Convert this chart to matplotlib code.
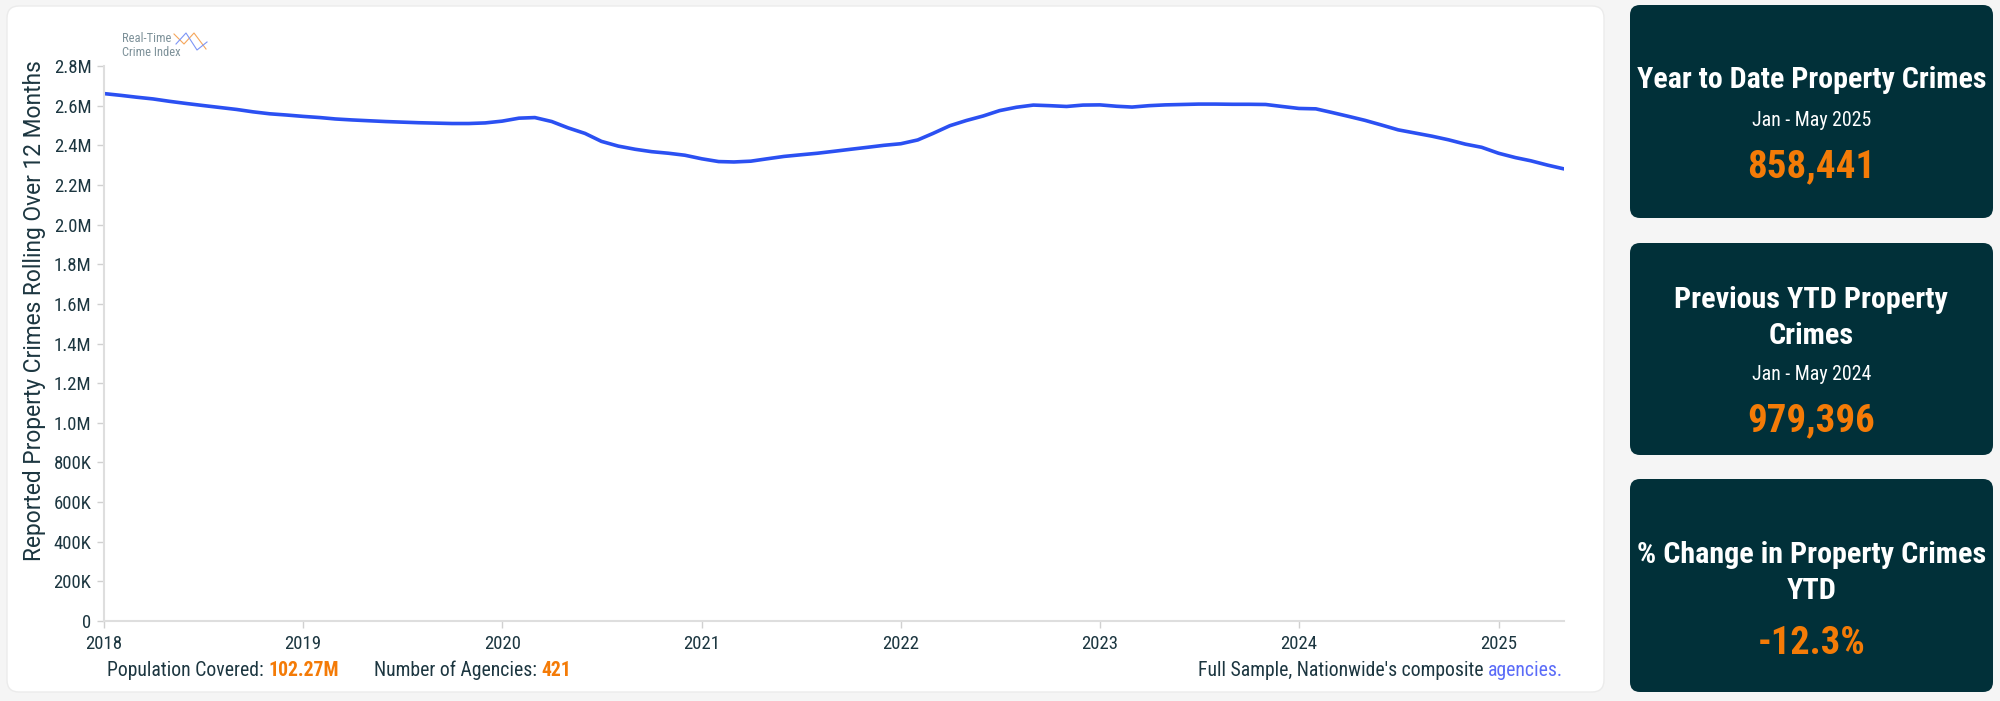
import matplotlib
matplotlib.use('Agg')
import matplotlib.pyplot as plt
import matplotlib.dates as mdates
from matplotlib import font_manager
from matplotlib.patches import FancyBboxPatch
from matplotlib.ticker import FuncFormatter
import pandas as pd

# reported property crimes, rolling 12 months (millions), monthly Jan 2018 .. May 2025
crimes = [
    2.661, 2.652, 2.643, 2.634, 2.622, 2.611, 2.601, 2.591, 2.581, 2.569, 2.559, 2.553,  # 2018
    2.546, 2.540, 2.533, 2.528, 2.524, 2.520, 2.517, 2.514, 2.512, 2.510, 2.510, 2.513,  # 2019
    2.522, 2.537, 2.540, 2.520, 2.488, 2.460, 2.420, 2.396, 2.380, 2.368, 2.360, 2.350,  # 2020
    2.332, 2.318, 2.316, 2.320, 2.332, 2.344, 2.352, 2.360, 2.370, 2.380, 2.390, 2.400,  # 2021
    2.408, 2.427, 2.460, 2.499, 2.525, 2.548, 2.575, 2.592, 2.603, 2.600, 2.596, 2.603,  # 2022
    2.604, 2.597, 2.593, 2.600, 2.604, 2.606, 2.608, 2.608, 2.607, 2.607, 2.606, 2.596,  # 2023
    2.586, 2.584, 2.566, 2.546, 2.526, 2.502, 2.478, 2.462, 2.446, 2.428, 2.406, 2.390,  # 2024
    2.360, 2.338, 2.322, 2.300, 2.281,                                                  # 2025
]
first_month = '2018-01-01'
y_ticks = [0, 0.2, 0.4, 0.6, 0.8, 1.0, 1.2, 1.4, 1.6, 1.8, 2.0, 2.2, 2.4, 2.6, 2.8]

pop_covered = '102.27M'
n_agencies = '421'

card_titles = ['Year to Date Property Crimes', 'Previous YTD Property\nCrimes',
               '% Change in Property Crimes\nYTD']
card_periods = ['Jan - May 2025', 'Jan - May 2024', None]
card_values = ['858,441', '979,396', '-12.3%']

DARK = '#1c3640'
ORANGE = '#f47b07'
TEAL = '#013039'
BLUE = '#2b50f2'

names = {f.name for f in font_manager.fontManager.ttflist}
narrow = next((n for n in ['Roboto Condensed', 'Liberation Sans Narrow'] if n in names), 'Roboto')
plt.rcParams['font.family'] = [narrow, 'DejaVu Sans']

fig = plt.figure(figsize=(20, 7.01), dpi=100, facecolor='#f5f5f5')

# background layer in pixel coordinates
bg = fig.add_axes([0, 0, 1, 1], zorder=0)
bg.set_xlim(0, 2000)
bg.set_ylim(701, 0)
bg.axis('off')
bg.add_patch(FancyBboxPatch((7, 6), 1597, 686, boxstyle='round,pad=0,rounding_size=12',
                            fc='white', ec='#ebebeb', lw=1))
card_boxes = [(5, 218), (243, 455), (479, 692)]
for (top, bot) in card_boxes:
    bg.add_patch(FancyBboxPatch((1630, top), 363, bot - top,
                                boxstyle='round,pad=0,rounding_size=10', fc=TEAL, ec='none'))

renderer = fig.canvas.get_renderer()


def fit(t, width_px):
    w = t.get_window_extent(renderer).width
    t.set_fontsize(t.get_fontsize() * width_px / w)


cx = 1811.5
layout = [
    # title y, title width, period y, value y, value width
    (80, 348, 120, 167, 128),
    (318, 273, 375, 421, 128),
    (573, 348, None, 643, 108),
]
for i, (ty, tw, py, vy, vw) in enumerate(layout):
    t = bg.text(cx, ty, card_titles[i], ha='center', va='center', color='white',
                fontweight='bold', fontsize=20, linespacing=1.33)
    fit(t, tw)
    if card_periods[i] is not None:
        p = bg.text(cx, py, card_periods[i], ha='center', va='center', color='white', fontsize=14)
        fit(p, 120)
    v = bg.text(cx, vy, card_values[i], ha='center', va='center', color=ORANGE,
                fontweight='bold', fontsize=28)
    fit(v, vw)

# logo
bg.text(122, 39, 'Real-Time', ha='left', va='center', color='#7d9199', fontsize=9)
bg.text(122, 52, 'Crime Index', ha='left', va='center', color='#7d9199', fontsize=9)
bg.plot([174, 184, 194, 206], [34, 44, 33, 49], color='#f5a65b', lw=0.8)
bg.plot([176, 186, 197, 207], [44, 33, 50, 42], color='#7d95f5', lw=0.8)

# chart
ax = fig.add_axes([0.052, 0.1141, 0.730, 0.7917], zorder=2)
ax.set_facecolor('none')
dates = pd.date_range(first_month, periods=len(crimes), freq='MS')
ax.plot(dates, crimes, color=BLUE, lw=2.6, solid_capstyle='round')

ax.set_xlim(dates[0], dates[-1])
ax.set_ylim(0, 2.8)
ax.set_yticks(y_ticks)
ax.yaxis.set_major_formatter(FuncFormatter(
    lambda v, p: '0' if v == 0 else (f'{v * 1000:.0f}K' if v < 1 else f'{v:.1f}M')))
ax.xaxis.set_major_locator(mdates.YearLocator())
ax.xaxis.set_major_formatter(mdates.DateFormatter('%Y'))

for s in ['top', 'right']:
    ax.spines[s].set_visible(False)
for s in ['left', 'bottom']:
    ax.spines[s].set_color('#dedede')
    ax.spines[s].set_linewidth(1.5)
ax.tick_params(axis='both', colors='#d0d0d0', labelcolor=DARK, labelsize=13.5, length=5, width=1)
ax.tick_params(axis='y', pad=4)
ax.tick_params(axis='x', pad=5)

ax.set_ylabel('Reported Property Crimes Rolling Over 12 Months', fontsize=16.4,
              color=DARK, family=['Roboto', 'DejaVu Sans'])
ax.yaxis.set_label_coords(-0.040, 0.56)

# footer
fs = 14.2
f1 = bg.text(107, 670, 'Population Covered: ', ha='left', va='center', color=DARK, fontsize=fs)
bg.annotate(pop_covered, xy=(1, 0), xycoords=f1, va='bottom', ha='left',
            color=ORANGE, fontweight='bold', fontsize=fs)
f2 = bg.text(374, 670, 'Number of Agencies: ', ha='left', va='center', color=DARK, fontsize=fs)
bg.annotate(n_agencies, xy=(1, 0), xycoords=f2, va='bottom', ha='left',
            color=ORANGE, fontweight='bold', fontsize=fs)
f3 = bg.text(1563, 670, 'agencies.', ha='right', va='center', color='#5b6cf8', fontsize=fs)
bg.annotate("Full Sample, Nationwide's composite ", xy=(0, 0), xycoords=f3, va='bottom',
            ha='right', color=DARK, fontsize=fs)

fig.savefig('out.png', dpi=100, facecolor=fig.get_facecolor())
